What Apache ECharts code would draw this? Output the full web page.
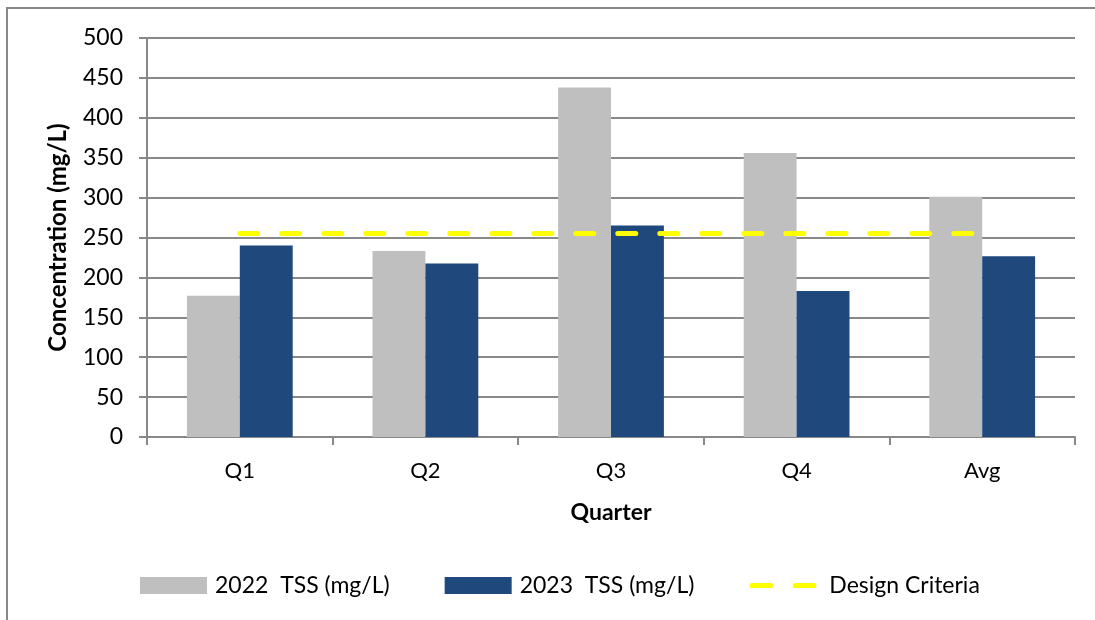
<!DOCTYPE html>
<html>
<head>
<meta charset="utf-8">
<script src="https://cdn.jsdelivr.net/npm/echarts@6/dist/echarts.min.js"></script>
<style>
  html, body { margin: 0; padding: 0; background: #fff; }
  #chart { width: 1095px; height: 620px; }
</style>
</head>
<body>
<div id="chart"></div>
<script>
// Quarterly TSS concentrations
const categories = ['Q1', 'Q2', 'Q3', 'Q4', 'Avg'];
const tss2022 = [177, 233, 438, 356, 301];
const tss2023 = [240, 217.5, 265, 183, 226.4];
const designCriteria = [255, 255, 255, 255, 255];
const yTicks = { min: 0, max: 500, interval: 50 };

const FONT = 'Lato';
const GRID_GRAY = '#888888';
// two rounded dashes for the legend key of the design line
const DASH_ICON = 'path://M2.5,0 h18 a2.5,2.5 0 0 1 0,5 h-18 a2.5,2.5 0 0 1 0,-5 z ' +
                  'M44.5,0 h18 a2.5,2.5 0 0 1 0,5 h-18 a2.5,2.5 0 0 1 0,-5 z';

const chart = echarts.init(document.getElementById('chart'), null, { renderer: 'canvas' });

chart.setOption({
  animation: false,
  backgroundColor: '#ffffff',
  textStyle: { fontFamily: FONT, color: '#000' },
  graphic: [{
    type: 'rect',
    shape: { x: 7, y: 8, width: 1200, height: 700 },
    style: { fill: 'none', stroke: GRID_GRAY, lineWidth: 2 },
    silent: true
  }],
  grid: { left: 147, right: 20, top: 38, bottom: 183, containLabel: false },
  legend: {
    bottom: 18,
    left: 135,
    itemWidth: 67,
    itemHeight: 17,
    itemGap: 55,
    textStyle: { fontFamily: FONT, fontSize: 23, color: '#000', padding: [0, 0, 0, 3] },
    data: [
      { name: '2022  TSS (mg/L)', icon: 'rect' },
      { name: '2023  TSS (mg/L)', icon: 'rect' },
      {
        name: 'Design Criteria',
        icon: DASH_ICON,
        itemStyle: { color: '#FFFF00' },
        textStyle: { padding: [0, 0, 0, 8] }
      }
    ]
  },
  xAxis: {
    type: 'category',
    data: categories,
    name: 'Quarter',
    nameLocation: 'middle',
    nameGap: 64,
    nameTextStyle: { fontFamily: FONT, fontSize: 23, fontWeight: 'bold', color: '#000' },
    axisLine: { lineStyle: { color: GRID_GRAY, width: 2 } },
    axisTick: { show: true, length: 8, inside: false, lineStyle: { color: GRID_GRAY, width: 2 } },
    axisLabel: { fontFamily: FONT, fontSize: 22, color: '#000', margin: 23 },
    splitLine: { show: false }
  },
  yAxis: {
    type: 'value',
    min: yTicks.min,
    max: yTicks.max,
    interval: yTicks.interval,
    name: 'Concentration (mg/L)',
    nameLocation: 'middle',
    nameGap: 77,
    nameTextStyle: { fontFamily: FONT, fontSize: 24, fontWeight: 'bold', color: '#000' },
    axisLine: { show: true, lineStyle: { color: GRID_GRAY, width: 2 } },
    axisTick: { show: true, length: 8, inside: false, lineStyle: { color: GRID_GRAY, width: 2 } },
    axisLabel: { fontFamily: FONT, fontSize: 23, color: '#000', margin: 24 },
    splitLine: { show: true, lineStyle: { color: GRID_GRAY, width: 2 } }
  },
  series: [
    {
      name: '2022  TSS (mg/L)',
      type: 'bar',
      data: tss2022,
      barGap: '0%',
      barCategoryGap: '43%',
      itemStyle: { color: '#BFBFBF' },
      z: 2
    },
    {
      name: '2023  TSS (mg/L)',
      type: 'bar',
      data: tss2023,
      itemStyle: { color: '#1F497D' },
      z: 2
    },
    {
      name: 'Design Criteria',
      type: 'line',
      data: designCriteria,
      symbol: 'none',
      z: 3,
      lineStyle: {
        color: '#FFFF00',
        width: 5,
        type: [18, 24],
        cap: 'round'
      },
      itemStyle: { color: '#FFFF00' }
    }
  ]
});
</script>
</body>
</html>
